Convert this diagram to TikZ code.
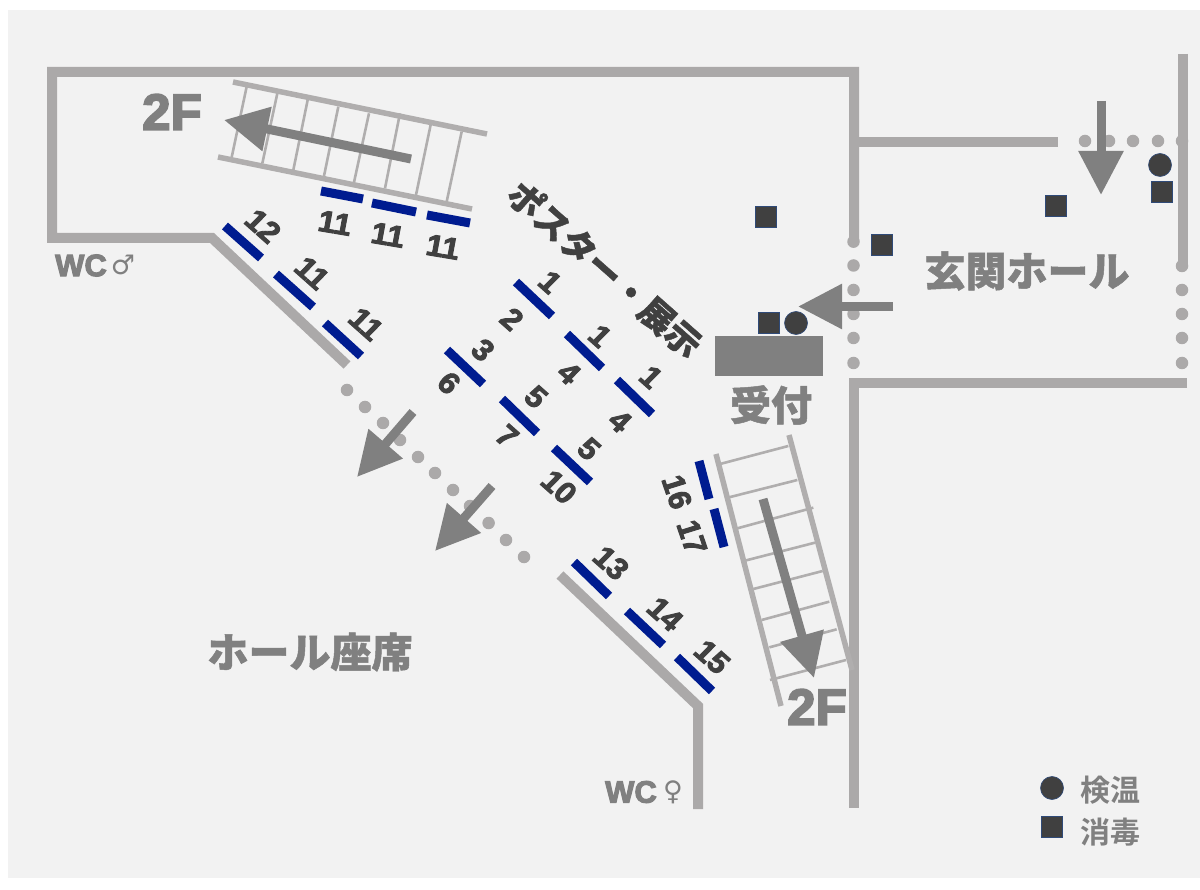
\documentclass[tikz,border=0pt]{standalone}
\usepackage{fontspec}
\usetikzlibrary{arrows.meta}
\setmainfont{Liberation Sans}
\newfontfamily\latinheavy[FakeBold=3.5]{Liberation Sans Bold}
\newfontfamily\numheavy[FakeBold=3]{Liberation Sans Bold}
\newfontfamily\cjkheavy[FakeBold=1.2]{Noto Sans CJK JP Black}
\newfontfamily\cjkmid{Noto Sans CJK JP Bold}
\newfontfamily\symfont{DejaVu Sans}
\definecolor{panelbg}{HTML}{F2F2F2}
\definecolor{wallgray}{HTML}{ABA9A9}
\definecolor{railgray}{HTML}{B0AEAE}
\definecolor{arrowgray}{HTML}{808080}
\definecolor{darktext}{HTML}{404040}
\definecolor{bluebar}{HTML}{001C90}
\definecolor{markedge}{HTML}{2F4A78}
\tikzset{
  wall/.style={draw=wallgray,line width=10pt,line cap=butt,line join=miter},
  dotmark/.style={circle,fill=wallgray,draw=none,minimum size=12.5pt,inner sep=0pt},
  rail/.style={draw=railgray,line width=5.5pt},
  rung/.style={draw=railgray,line width=2.6pt},
  flow/.style={draw=arrowgray,line width=9pt,-{Triangle[length=44pt,width=43pt,color=arrowgray]}},
  barmark/.style={draw=bluebar,line width=9pt},
  num/.style={font=\fontsize{30}{30}\numheavy,text=darktext,inner sep=0pt,xscale=1.05},
  bigtext/.style={font=\fontsize{51}{51}\latinheavy,text=arrowgray,inner sep=0pt},
  wctext/.style={font=\fontsize{31}{31}\latinheavy,text=arrowgray,inner sep=0pt},
  gendertext/.style={font=\fontsize{27}{27}\symfont,text=arrowgray,inner sep=0pt},
  jplabel/.style={font=\fontsize{41}{41}\cjkheavy,text=arrowgray,inner sep=0pt},
  sqmark/.style={rectangle,fill=darktext,draw=markedge,line width=0.6pt,minimum size=21pt,inner sep=0pt},
  cimark/.style={circle,fill=darktext,draw=markedge,line width=0.6pt,minimum size=23pt,inner sep=0pt},
  legendlabel/.style={font=\fontsize{30}{30}\cjkmid,text=arrowgray,inner sep=0pt,anchor=west}
}
\begin{document}
\begin{tikzpicture}[x=1pt,y=-1pt]
\useasboundingbox (0,0) rectangle (1200,890);
\fill[white] (0,0) rectangle (1200,890);
\fill[panelbg] (8,10) rectangle (1200,878);
% walls
\draw[wall] (854,241) -- (854,72) -- (52,72) -- (52,238) -- (212,238) -- (347,365);
\draw[wall] (854,142) -- (1058,142);
\draw[wall] (1183,54) -- (1183,266);
\draw[wall] (1187,383) -- (854,383) -- (854,808);
\draw[wall] (560,575) -- (698,706) -- (698,809);
% dotted openings
\foreach \i/\x/\y in {1/853.5/241.7,2/853.5/265.5,3/853.5/290,4/853.5/314,5/853.5/338,6/853.5/363,
  7/1182/266,8/1182/290,9/1182/314,10/1182/338,11/1182/363,
  12/1085/141,13/1109/141,14/1133/141,15/1158/141,16/1182/141,
  17/347/390,18/365/407,19/383/423,20/400/440,21/418/457,22/435/473,23/453/490,24/470/506,25/488.6/523,26/506/540,27/524/557}
  \node[dotmark] (d\i) at (\x,\y) {};
% stairs to the upper left
\draw[rail] (233,82) -- (487,134);
\draw[rail] (218,157) -- (472,209);
\foreach \a/\b/\c/\d in {650/110/605/322,742/130/697/340,833/150/790/360,925/170/882/378,1017/190/972/397,1110/190/1065/415,1205/210/1158/435,1295/245/1250/455}
  \draw[rung] ({30+\a/3},{50+\b/3}) -- ({30+\c/3},{50+\d/3});
% stairs to the lower right
\draw[rail] (716,454) -- (781,706);
\draw[rail] (789,435) -- (852,670);
\foreach \a/\b/\c/\d in {540/102/745/48,555/205/772/150,592/295/820/233,615/392/825/338,640/477/848/423,665/570/868/515,688/652/890/598,690/750/918/690}
  \draw[rung] ({540+\a/3},{430+\b/3}) -- ({540+\c/3},{430+\d/3});
% flow arrows
\coordinate (a1s) at (411,159); \coordinate (a1e) at (224,120);
\coordinate (a2s) at (1101,101); \coordinate (a2e) at (1101,195);
\coordinate (a3s) at (893,306.5); \coordinate (a3e) at (798,306.5);
\coordinate (a4s) at (413,412); \coordinate (a4e) at (357,477);
\coordinate (a5s) at (492,486); \coordinate (a5e) at (435,551);
\coordinate (a6s) at (763,499); \coordinate (a6e) at (814,678);
\foreach \i in {1,...,6} \draw[flow] (a\i s) -- (a\i e);
% blue bars with their numbers
\foreach \ax/\ay/\bx/\by in {321/191/363/199,372/203/416/212,427/215/470/223,
  225/226/261/258,276/274/313/307,325/323/361/356,
  516/282/552/316,567/334/602/368,617/380/652/414,447/350/483/384,502/399/537/433,554/448/590/482,
  699/461/709/499,714/509/724/547,
  574/562/609/596,627/611/663/645,677/657/712/691}
  \draw[barmark] (\ax,\ay) -- (\bx,\by);
\foreach \i/\x/\y/\t in {a/335/223/11,b/388/235/11,c/443/247/11}
  \node[num,rotate=-10] (n\i) at (\x,\y) {\t};
\foreach \i/\x/\y/\t in {d/263/226/12,e/312/273/11,f/366/324/11,g/550/282/1,h/512/319/2,i/600/336/1,j/569/373/4,k/651/377/1,l/620/421/4,m/483/350/3,n/449/383/6,o/536/397/5,p/507/436/7,q/589/449/5,r/559/487/10,s/611/563/13,t/665/614/14,u/712/657/15}
  \node[num,rotate=-43] (n\i) at (\x,\y) {\t};
\node[num,rotate=-72] (nv) at (677,492) {16};
\node[num,rotate=-72] (nw) at (692,537) {17};
% reception
\node[rectangle,fill=arrowgray,minimum width=108pt,minimum height=40pt,inner sep=0pt] (desk) at (769,356) {};
% marks
\node[sqmark] (s1) at (766,217) {};
\node[sqmark] (s2) at (882,245) {};
\node[sqmark] (s3) at (769,323) {};
\node[cimark] (c1) at (796,323) {};
\node[sqmark] (s4) at (1056,206) {};
\node[sqmark] (s5) at (1162,192) {};
\node[cimark] (c2) at (1160,165) {};
\node[cimark] (c3) at (1052,788) {};
\node[sqmark] (s6) at (1052,827) {};
% texts
\node[bigtext] (up1) at (172,112) {2F};
\node[bigtext] (up2) at (817,707) {2F};
\node[wctext] (wc1) at (81,265.5) {WC};
\node[gendertext] (gm) at (123,265) {♂};
\node[wctext] (wc2) at (631,792) {WC};
\node[gendertext] (gf) at (673,792) {♀};
\node[jplabel] (hall1) at (1027,271) {玄関ホール};
\node[jplabel] (rcpt) at (771,405) {受付};
\node[jplabel] (hall2) at (310,652) {ホール座席};
\node[font=\fontsize{35}{35}\cjkheavy,text=darktext,inner sep=0pt,rotate=-41.5] (poster) at (605,269) {ポスター・展示};
\node[legendlabel] (l1) at (1080,790) {検温};
\node[legendlabel] (l2) at (1080,832) {消毒};
\end{tikzpicture}
\end{document}
